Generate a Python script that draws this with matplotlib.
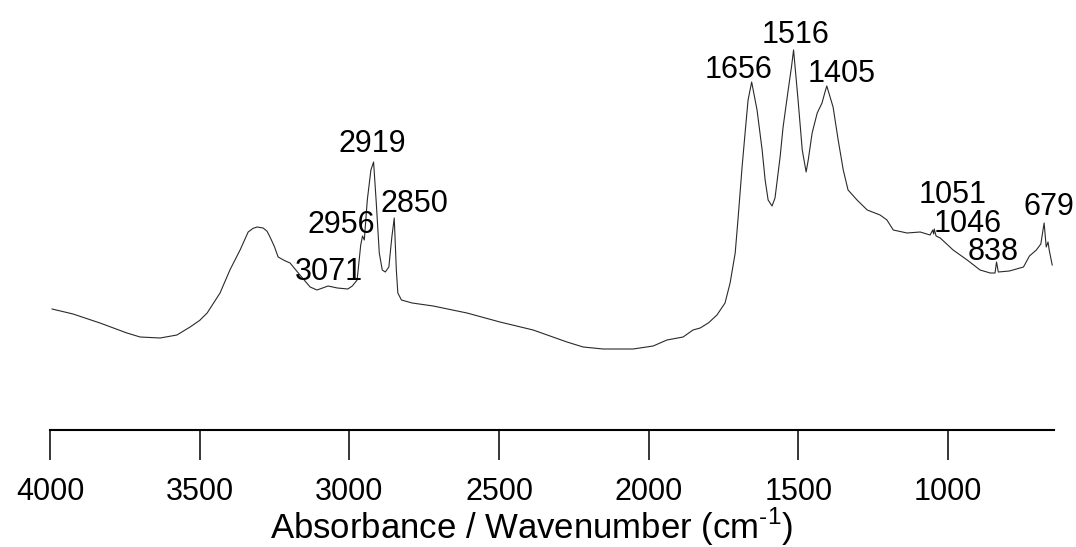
import matplotlib
matplotlib.use("Agg")
import matplotlib.pyplot as plt
from matplotlib import font_manager
import numpy as np

# FTIR absorbance spectrum (arbitrary absorbance units), wavenumber in cm^-1
wavenumber = [
    3993, 3923, 3833, 3743, 3699, 3632, 3576, 3532, 3500, 3475,
    3432, 3399, 3365, 3350, 3338, 3322, 3308, 3288, 3275, 3265,
    3250, 3238, 3215, 3198, 3165, 3131, 3108, 3071, 3040, 3005,
    2990, 2974, 2962, 2956, 2950, 2940, 2928, 2919, 2910, 2900,
    2890, 2880, 2868, 2858, 2850, 2843, 2838, 2826, 2790, 2720,
    2607, 2497, 2386, 2273, 2219, 2152, 2052, 1985, 1939, 1885,
    1852, 1828, 1800, 1772, 1745, 1728, 1711, 1701, 1688, 1678,
    1668, 1656, 1638, 1621, 1611, 1601, 1588, 1578, 1561, 1551,
    1534, 1523, 1516, 1501, 1487, 1474, 1467, 1454, 1437, 1421,
    1411, 1405, 1384, 1367, 1350, 1334, 1304, 1270, 1227, 1204,
    1183, 1137, 1093, 1060, 1051, 1048, 1046, 1040, 1026, 983,
    936, 893, 859, 843, 838, 832, 795, 748, 728, 705,
    690, 679, 672, 666, 662, 652,
]
absorbance = [
    0.3025, 0.290, 0.2675, 0.2425, 0.2325, 0.230, 0.2375, 0.2575, 0.274, 0.2925,
    0.3425, 0.400, 0.450, 0.475, 0.495, 0.504, 0.5075, 0.505, 0.497, 0.4825,
    0.458, 0.4325, 0.423, 0.4175, 0.3875, 0.3575, 0.350, 0.360, 0.355, 0.3525,
    0.360, 0.375, 0.4625, 0.485, 0.475, 0.575, 0.650, 0.670, 0.5675, 0.4425,
    0.400, 0.395, 0.4075, 0.4825, 0.530, 0.400, 0.3425, 0.325, 0.3175, 0.310,
    0.2925, 0.270, 0.250, 0.220, 0.2075, 0.2025, 0.2025, 0.210, 0.225, 0.2325,
    0.250, 0.255, 0.268, 0.2875, 0.3175, 0.3675, 0.4425, 0.5325, 0.6575, 0.7425,
    0.825, 0.870, 0.800, 0.700, 0.625, 0.575, 0.560, 0.580, 0.6825, 0.7575,
    0.850, 0.9075, 0.950, 0.825, 0.700, 0.645, 0.675, 0.7425, 0.7925, 0.8175,
    0.845, 0.860, 0.8075, 0.725, 0.650, 0.600, 0.575, 0.550, 0.5375, 0.525,
    0.500, 0.4925, 0.495, 0.4875, 0.500, 0.490, 0.5025, 0.485, 0.480, 0.450,
    0.425, 0.400, 0.3925, 0.3925, 0.420, 0.395, 0.3975, 0.4075, 0.435, 0.450,
    0.465, 0.5175, 0.4575, 0.470, 0.450, 0.4125,
]

# Assigned band positions and where their labels sit (wavenumber, absorbance baseline)
peak_labels = ["3071", "2956", "2919", "2850", "1656", "1516", "1405",
               "1051", "1046", "838", "679"]
label_x = [3068, 3028, 2924, 2784, 1701, 1508, 1354, 986, 936, 849, 662]
label_y = [0.375, 0.4925, 0.695, 0.545, 0.88, 0.9675, 0.87, 0.5675, 0.495, 0.425, 0.5375]

tick_values = [4000, 3500, 3000, 2500, 2000, 1500, 1000]

installed = {f.name for f in font_manager.fontManager.ttflist}
base_font = "Liberation Sans" if "Liberation Sans" in installed else "DejaVu Sans"
narrow_font = "Liberation Sans Narrow" if "Liberation Sans Narrow" in installed else base_font
label_size = 24 if narrow_font != base_font else 22

plt.rcParams["font.family"] = [base_font, "DejaVu Sans"]
plt.rcParams["mathtext.fontset"] = "custom"
plt.rcParams["mathtext.rm"] = base_font
plt.rcParams["axes.unicode_minus"] = False

W, H = 1076, 547
fig = plt.figure(figsize=(W / 100, H / 100), dpi=100)
ax = fig.add_axes([50 / W, (H - 430) / H, 1004 / W, 400 / H])

ax.plot(wavenumber, absorbance, color="#2a2a2a", lw=0.8)

ax.set_xlim(4000, 646)
ax.set_ylim(0, 1)
for side in ("left", "right", "top"):
    ax.spines[side].set_visible(False)
ax.spines["bottom"].set_linewidth(1.5)
ax.spines["bottom"].set_color("black")
ax.set_yticks([])
ax.set_xticks(tick_values)
ax.set_xticklabels([str(v) for v in tick_values])
ax.tick_params(axis="x", direction="out", length=21.5, width=1.1,
               pad=12.5, labelsize=22, colors="black")

for text, x, y in zip(peak_labels, label_x, label_y):
    ax.text(x, y, text, ha="center", va="baseline", fontsize=label_size,
            family=[narrow_font, "DejaVu Sans"], color="black", clip_on=False)

fig.text(532 / W, (H - 539) / H, r"Absorbance / Wavenumber (cm$^{\text{-1}}$)",
         ha="center", va="baseline", fontsize=25, color="black")

fig.savefig("out.png", dpi=100, facecolor="white")
